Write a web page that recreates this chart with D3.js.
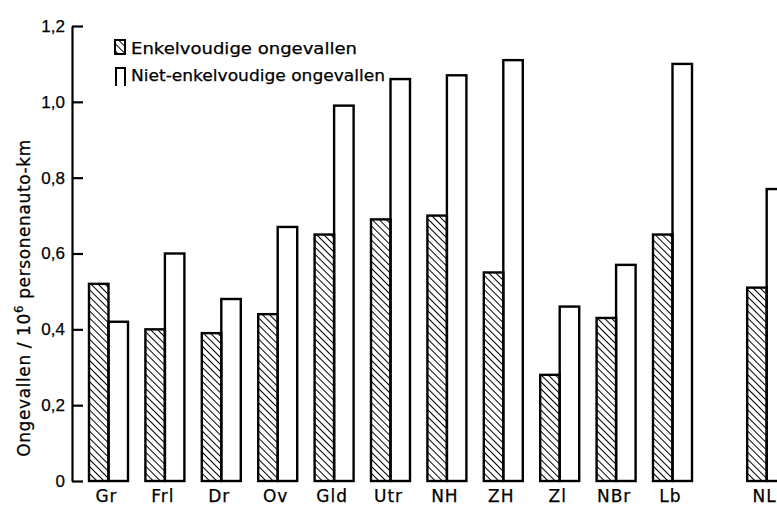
<!DOCTYPE html>
<html>
<head>
<meta charset="utf-8">
<script src="https://cdn.jsdelivr.net/npm/d3@7"></script>
<style>
  body { margin: 0; background: #fff; }
  svg { display: block; font-family: "DejaVu Sans", "Liberation Sans", sans-serif; }
  .axis path, .axis line { stroke: #000; stroke-width: 2.2; }
  .axis text { font-size: 17px; fill: #000; }
  text { stroke: #000; stroke-width: 0.25; }
</style>
</head>
<body>
<div id="chart"></div>
<script>
// provinces + the country total (NL)
const categories = ["Gr", "Frl", "Dr", "Ov", "Gld", "Utr", "NH", "ZH", "Zl", "NBr", "Lb", "NL"]
const enkelvoudig = [0.52, 0.40, 0.39, 0.44, 0.65, 0.69, 0.70, 0.55, 0.28, 0.43, 0.65, 0.51]
const nietEnkelvoudig = [0.42, 0.60, 0.48, 0.67, 0.99, 1.06, 1.07, 1.11, 0.46, 0.57, 1.10, 0.77]
const yTicks = [0, 0.2, 0.4, 0.6, 0.8, 1.0, 1.2]
const seriesNames = ["Enkelvoudige ongevallen", "Niet-enkelvoudige ongevallen"]

let w = 777
let h = 505
let barW = 19.5

let svg = d3.select("#chart").append("svg").attr("width", w).attr("height", h)

// diagonal hatching for the single-vehicle bars
svg.append("defs").append("pattern")
  .attr("id", "hatch")
  .attr("patternUnits", "userSpaceOnUse")
  .attr("width", 5).attr("height", 5)
  .attr("patternTransform", "rotate(-45)")
  .append("line")
  .attr("x1", 0).attr("y1", 0).attr("x2", 0).attr("y2", 5)
  .attr("stroke", "#000").attr("stroke-width", 2)

let y = d3.scaleLinear().domain([0, 1.2]).range([481, 26])
// NL sits a bit apart from the provinces
let slot = i => categories[i] === "NL" ? i + 0.67 : i
let x = d3.scaleLinear().domain([0, 10]).range([89, 653])

let yAxis = d3.axisLeft(y)
  .tickValues(yTicks)
  .tickSizeInner(-11)
  .tickSizeOuter(0)
  .tickPadding(7)
  .tickFormat(d => d === 0 ? "0" : d.toFixed(1).replace(".", ","))

svg.append("g").attr("class", "axis").attr("transform", "translate(72,0)").call(yAxis)

let groups = svg.append("g").selectAll("g")
  .data(categories)
  .enter()
  .append("g")
  .attr("transform", (d, i) => "translate(" + x(slot(i)) + ",0)")

groups.append("rect")
  .attr("x", barW)
  .attr("y", (d, i) => y(nietEnkelvoudig[i]))
  .attr("width", barW)
  .attr("height", (d, i) => y(0) - y(nietEnkelvoudig[i]))
  .attr("fill", "#fff").attr("stroke", "#000").attr("stroke-width", 2.4)

groups.append("rect")
  .attr("x", 0)
  .attr("y", (d, i) => y(enkelvoudig[i]))
  .attr("width", barW)
  .attr("height", (d, i) => y(0) - y(enkelvoudig[i]))
  .attr("fill", "url(#hatch)").attr("stroke", "#000").attr("stroke-width", 2.4)

groups.append("text")
  .attr("x", barW - 2)
  .attr("y", 502)
  .attr("text-anchor", "middle")
  .attr("font-size", 17)
  .attr("letter-spacing", 1)
  .text(d => d)

// legend
let legend = svg.append("g").attr("id", "legend")
legend.append("rect")
  .attr("x", 115).attr("y", 40).attr("width", 10).attr("height", 14)
  .attr("fill", "url(#hatch)").attr("stroke", "#000").attr("stroke-width", 2)
legend.append("path")
  .attr("d", "M116,86 V68 H125 V86")
  .attr("fill", "none").attr("stroke", "#000").attr("stroke-width", 2)
legend.selectAll("text")
  .data(seriesNames)
  .enter()
  .append("text")
  .attr("x", 131)
  .attr("y", (d, i) => 54 + i * 27)
  .attr("font-size", 16)
  .attr("textLength", (d, i) => i === 0 ? 226 : 254)
  .attr("lengthAdjust", "spacingAndGlyphs")
  .text(d => d)

// y label
let yl = svg.append("text")
  .attr("transform", "translate(30,298) rotate(-90)")
  .attr("text-anchor", "middle")
  .attr("font-size", 17)
  .attr("letter-spacing", 0.6)
yl.append("tspan").text("Ongevallen / 10")
yl.append("tspan").attr("font-size", 12).attr("dy", -7).text("6")
yl.append("tspan").attr("dy", 7).text(" personenauto-km")
</script>
</body>
</html>
